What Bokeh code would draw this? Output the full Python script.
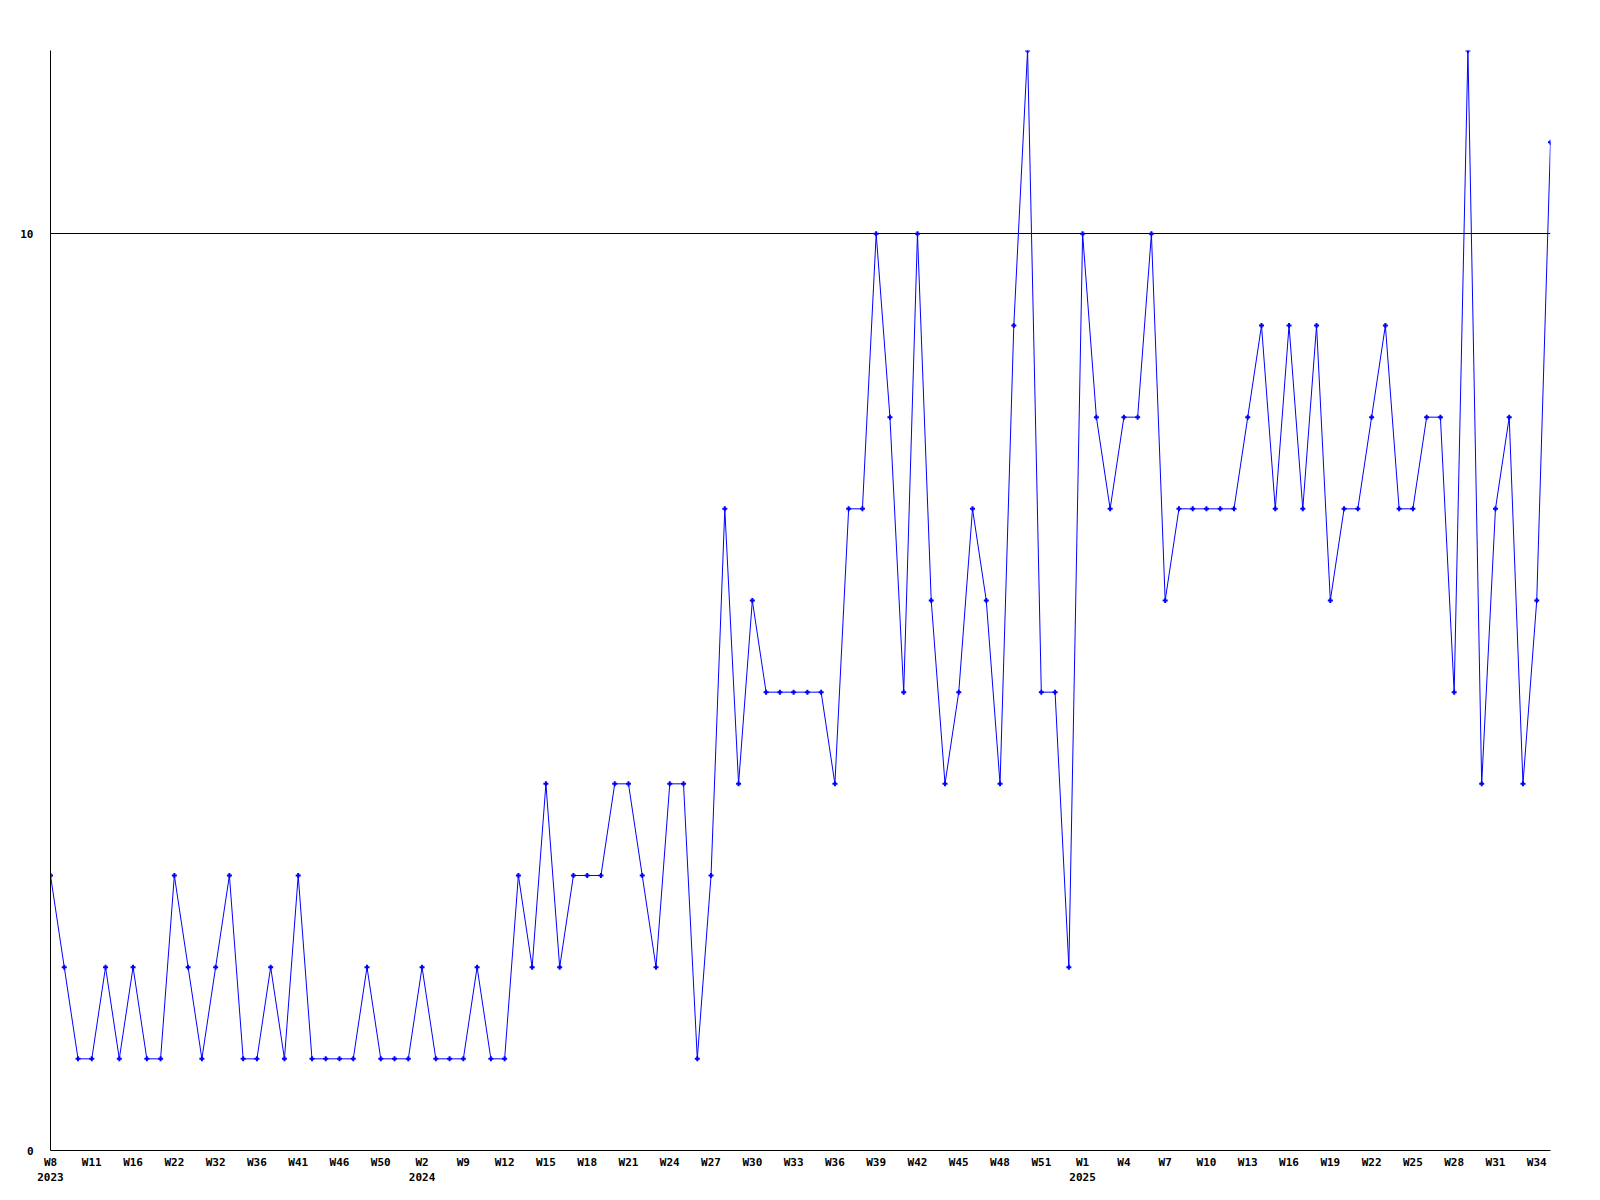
from bokeh.plotting import figure
from bokeh.models import Range1d, FixedTicker, ColumnDataSource
from bokeh.embed import file_html
from bokeh.resources import INLINE

# Weekly values, one per week point (110 points)
values = [3, 2, 1, 1, 2, 1, 2, 1, 1, 3,
          2, 1, 2, 3, 1, 1, 2, 1, 3, 1,
          1, 1, 1, 2, 1, 1, 1, 2, 1, 1,
          1, 2, 1, 1, 3, 2, 4, 2, 3, 3,
          3, 4, 4, 3, 2, 4, 4, 1, 3, 7,
          4, 6, 5, 5, 5, 5, 5, 4, 7, 7,
          10, 8, 5, 10, 6, 4, 5, 7, 6, 4,
          9, 12, 5, 5, 2, 10, 8, 7, 8, 8,
          10, 6, 7, 7, 7, 7, 7, 8, 9, 7,
          9, 7, 9, 6, 7, 7, 8, 9, 7, 7,
          8, 8, 5, 12, 4, 7, 8, 4, 6, 11]

# Tick labels shown every 3rd point
week_ticks = ["W8", "W11", "W16", "W22", "W32", "W36", "W41", "W46", "W50",
              "W2", "W9", "W12", "W15", "W18", "W21", "W24", "W27", "W30",
              "W33", "W36", "W39", "W42", "W45", "W48", "W51",
              "W1", "W4", "W7", "W10", "W13", "W16", "W19", "W22", "W25",
              "W28", "W31", "W34"]
year_marks = {0: "2023", 9: "2024", 25: "2025"}
tick_step = 3

y_ticks = [0, 10]

x = list(range(len(values)))
src = ColumnDataSource(dict(x=x, y=values))

p = figure(width=1592, height=1192, output_backend="svg", toolbar_location=None,
           x_range=Range1d(0, len(values) - 1), y_range=Range1d(0, 12),
           min_border_left=50, min_border_right=42, min_border_top=50,
           min_border_bottom=42)
p.outline_line_color = None
p.background_fill_color = "white"
p.border_fill_color = "white"

font = "DejaVu Sans Mono"

tick_pos = [i * tick_step for i in range(len(week_ticks))]
overrides = {}
for k, (pos, lab) in enumerate(zip(tick_pos, week_ticks)):
    overrides[pos] = lab + ("\n" + year_marks[k] if k in year_marks else "")

p.xaxis.ticker = FixedTicker(ticks=tick_pos)
p.xaxis.major_label_overrides = overrides
p.yaxis.ticker = FixedTicker(ticks=y_ticks)

for ax in (p.xaxis, p.yaxis):
    ax.axis_line_color = "black"
    ax.axis_line_width = 1
    ax.major_tick_line_color = None
    ax.minor_tick_line_color = None
    ax.major_tick_out = 0
    ax.major_tick_in = 0
    ax.major_label_text_font = font
    ax.major_label_text_font_style = "bold"
    ax.major_label_text_font_size = "11px"
    ax.major_label_text_color = "black"
p.xaxis.major_label_standoff = 5
p.yaxis.major_label_standoff = 17

p.xgrid.grid_line_color = None
p.ygrid.ticker = FixedTicker(ticks=[10])
p.ygrid.grid_line_color = "black"
p.ygrid.grid_line_width = 1

p.line("x", "y", source=src, line_color="#0000ff", line_width=1)
p.scatter("x", "y", source=src, marker="cross", size=5, line_width=2,
          line_color="#0000ff")

open("out.html", "w").write(file_html(p, INLINE))
